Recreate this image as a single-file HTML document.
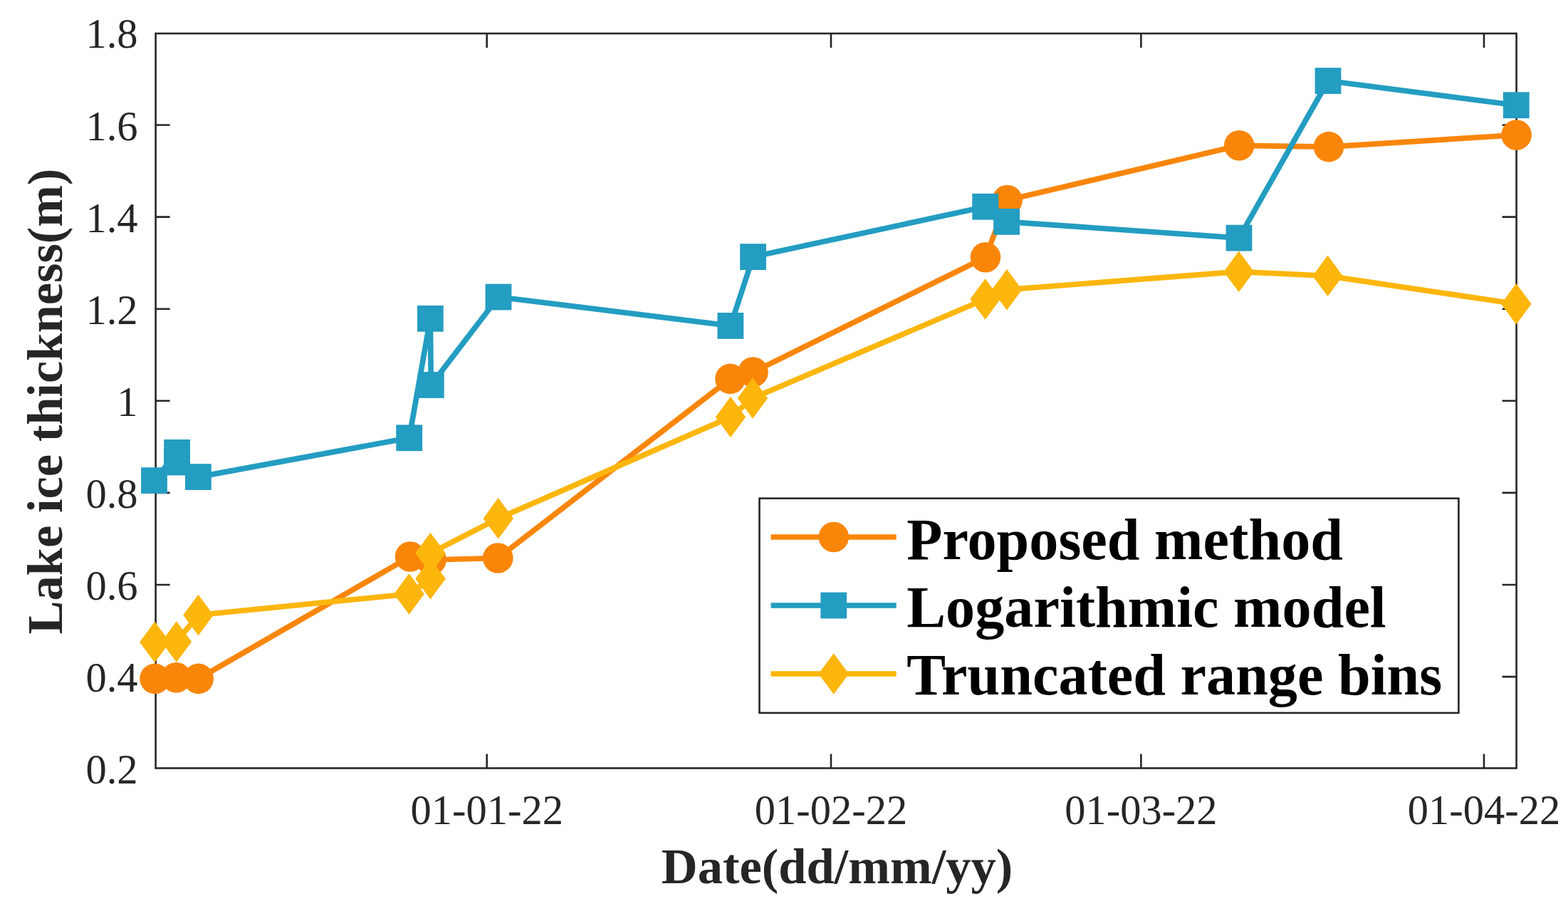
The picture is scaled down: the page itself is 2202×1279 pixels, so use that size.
<!DOCTYPE html>
<html><head><meta charset="utf-8"><title>Lake ice thickness</title>
<style>
html,body{margin:0;padding:0;background:#fff;}
svg{display:block;}
.t{font-family:"Liberation Serif","Times New Roman",serif;font-size:58.5px;fill:#262626;}
.l{font-family:"Liberation Serif","Times New Roman",serif;font-size:70.5px;font-weight:bold;fill:#262626;}
.g{font-family:"Liberation Serif","Times New Roman",serif;font-size:82.2px;font-weight:bold;fill:#000;}
</style></head><body>
<svg width="2202" height="1279" viewBox="0 0 2202 1279">
<rect width="2202" height="1279" fill="#fff"/>
<rect x="218.6" y="47.0" width="1911.0" height="1031.5" fill="none" stroke="#262626" stroke-width="2.6"/>
<path d="M683.7,1078.5V1058.5M683.7,47.0V67.0M1167.0,1078.5V1058.5M1167.0,47.0V67.0M1602.4,1078.5V1058.5M1602.4,47.0V67.0M2084.0,1078.5V1058.5M2084.0,47.0V67.0M218.6,950.1H238.6M2129.6,950.1H2109.6M218.6,821.0H238.6M2129.6,821.0H2109.6M218.6,691.9H238.6M2129.6,691.9H2109.6M218.6,562.8H238.6M2129.6,562.8H2109.6M218.6,433.7H238.6M2129.6,433.7H2109.6M218.6,304.6H238.6M2129.6,304.6H2109.6M218.6,175.5H238.6M2129.6,175.5H2109.6" stroke="#262626" stroke-width="2.6" fill="none"/>
<text x="683.7" y="1157.0" text-anchor="middle" class="t">01-01-22</text>
<text x="1167.0" y="1157.0" text-anchor="middle" class="t">01-02-22</text>
<text x="1602.4" y="1157.0" text-anchor="middle" class="t">01-03-22</text>
<text x="2084.0" y="1157.0" text-anchor="middle" class="t">01-04-22</text>
<text x="193.6" y="1100.2" text-anchor="end" class="t">0.2</text>
<text x="193.6" y="971.1" text-anchor="end" class="t">0.4</text>
<text x="193.6" y="842.0" text-anchor="end" class="t">0.6</text>
<text x="193.6" y="712.9" text-anchor="end" class="t">0.8</text>
<text x="193.6" y="583.8" text-anchor="end" class="t">1</text>
<text x="193.6" y="454.7" text-anchor="end" class="t">1.2</text>
<text x="193.6" y="325.6" text-anchor="end" class="t">1.4</text>
<text x="193.6" y="196.5" text-anchor="end" class="t">1.6</text>
<text x="193.6" y="67.4" text-anchor="end" class="t">1.8</text>
<text x="1175.5" y="1240.2" text-anchor="middle" class="l">Date(dd/mm/yy)</text>
<text transform="translate(86.7,563.5) rotate(-90)" x="0" y="0" text-anchor="middle" class="l">Lake ice thickness(m)</text>
<polyline points="217.5,952.9 247.5,951.2 278.7,952.9 576.0,781.5 605.5,786.0 699.3,783.5 1025.5,531.9 1057.5,522.5 1384.0,361.2 1414.6,281.0 1740.2,204.3 1866.0,206.1 2129.6,189.5" fill="none" stroke="#F98609" stroke-width="7.7" stroke-linejoin="round" stroke-linecap="round"/>
<circle cx="217.5" cy="952.9" r="21.3" fill="#F98609"/>
<circle cx="247.5" cy="951.2" r="21.3" fill="#F98609"/>
<circle cx="278.7" cy="952.9" r="21.3" fill="#F98609"/>
<circle cx="576.0" cy="781.5" r="21.3" fill="#F98609"/>
<circle cx="605.5" cy="786.0" r="21.3" fill="#F98609"/>
<circle cx="699.3" cy="783.5" r="21.3" fill="#F98609"/>
<circle cx="1025.5" cy="531.9" r="21.3" fill="#F98609"/>
<circle cx="1057.5" cy="522.5" r="21.3" fill="#F98609"/>
<circle cx="1384.0" cy="361.2" r="21.3" fill="#F98609"/>
<circle cx="1414.6" cy="281.0" r="21.3" fill="#F98609"/>
<circle cx="1740.2" cy="204.3" r="21.3" fill="#F98609"/>
<circle cx="1866.0" cy="206.1" r="21.3" fill="#F98609"/>
<circle cx="2129.6" cy="189.5" r="21.3" fill="#F98609"/>
<polyline points="216.5,674.6 248.6,635.4 248.6,649.0 278.4,669.6 574.7,614.8 604.3,447.3 605.3,540.5 700.0,417.0 1025.9,457.4 1057.6,360.6 1383.7,290.2 1413.6,311.3 1740.0,334.1 1865.0,113.5 2129.3,147.7" fill="none" stroke="#239DC1" stroke-width="7.7" stroke-linejoin="round" stroke-linecap="round"/>
<rect x="198.1" y="656.2" width="36.8" height="36.8" fill="#239DC1"/>
<rect x="230.2" y="617.0" width="36.8" height="36.8" fill="#239DC1"/>
<rect x="230.2" y="630.6" width="36.8" height="36.8" fill="#239DC1"/>
<rect x="260.0" y="651.2" width="36.8" height="36.8" fill="#239DC1"/>
<rect x="556.3" y="596.4" width="36.8" height="36.8" fill="#239DC1"/>
<rect x="585.9" y="428.9" width="36.8" height="36.8" fill="#239DC1"/>
<rect x="586.9" y="522.1" width="36.8" height="36.8" fill="#239DC1"/>
<rect x="681.6" y="398.6" width="36.8" height="36.8" fill="#239DC1"/>
<rect x="1007.5" y="439.0" width="36.8" height="36.8" fill="#239DC1"/>
<rect x="1039.2" y="342.2" width="36.8" height="36.8" fill="#239DC1"/>
<rect x="1365.3" y="271.8" width="36.8" height="36.8" fill="#239DC1"/>
<rect x="1395.2" y="292.9" width="36.8" height="36.8" fill="#239DC1"/>
<rect x="1721.6" y="315.7" width="36.8" height="36.8" fill="#239DC1"/>
<rect x="1846.6" y="95.1" width="36.8" height="36.8" fill="#239DC1"/>
<rect x="2110.9" y="129.3" width="36.8" height="36.8" fill="#239DC1"/>
<polyline points="217.3,901.5 247.8,901.0 278.5,863.5 574.5,834.0 604.5,812.6 604.5,776.6 699.7,727.9 1026.0,585.5 1057.0,559.0 1383.6,420.0 1414.0,406.7 1739.7,381.4 1864.6,387.4 2129.3,426.7" fill="none" stroke="#FCB60C" stroke-width="7.7" stroke-linejoin="round" stroke-linecap="round"/>
<polygon points="217.3,872.8 238.6,901.5 217.3,930.2 196.1,901.5" fill="#FCB60C"/>
<polygon points="247.8,872.2 269.1,901.0 247.8,929.8 226.6,901.0" fill="#FCB60C"/>
<polygon points="278.5,834.8 299.8,863.5 278.5,892.2 257.2,863.5" fill="#FCB60C"/>
<polygon points="574.5,805.2 595.8,834.0 574.5,862.8 553.2,834.0" fill="#FCB60C"/>
<polygon points="604.5,783.9 625.8,812.6 604.5,841.4 583.2,812.6" fill="#FCB60C"/>
<polygon points="604.5,747.9 625.8,776.6 604.5,805.4 583.2,776.6" fill="#FCB60C"/>
<polygon points="699.7,699.1 721.0,727.9 699.7,756.6 678.5,727.9" fill="#FCB60C"/>
<polygon points="1026.0,556.8 1047.2,585.5 1026.0,614.2 1004.8,585.5" fill="#FCB60C"/>
<polygon points="1057.0,530.2 1078.2,559.0 1057.0,587.8 1035.8,559.0" fill="#FCB60C"/>
<polygon points="1383.6,391.2 1404.8,420.0 1383.6,448.8 1362.3,420.0" fill="#FCB60C"/>
<polygon points="1414.0,377.9 1435.2,406.7 1414.0,435.4 1392.8,406.7" fill="#FCB60C"/>
<polygon points="1739.7,352.6 1761.0,381.4 1739.7,410.1 1718.5,381.4" fill="#FCB60C"/>
<polygon points="1864.6,358.6 1885.8,387.4 1864.6,416.1 1843.3,387.4" fill="#FCB60C"/>
<polygon points="2129.3,397.9 2150.6,426.7 2129.3,455.4 2108.1,426.7" fill="#FCB60C"/>
<rect x="1066.5" y="699.7" width="981.9" height="301.2" fill="#fff" stroke="#262626" stroke-width="2.6"/>
<line x1="1082.6" y1="754.0" x2="1258.7" y2="754.0" stroke="#F98609" stroke-width="7.7"/>
<circle cx="1170.8" cy="754.0" r="21.3" fill="#F98609"/>
<text x="1273.3" y="785.0" class="g">Proposed method</text>
<line x1="1082.6" y1="850.0" x2="1258.7" y2="850.0" stroke="#239DC1" stroke-width="7.7"/>
<rect x="1152.4" y="831.6" width="36.8" height="36.8" fill="#239DC1"/>
<text x="1273.3" y="879.5" class="g">Logarithmic model</text>
<line x1="1082.6" y1="946.0" x2="1258.7" y2="946.0" stroke="#FCB60C" stroke-width="7.7"/>
<polygon points="1170.8,917.2 1192.0,946.0 1170.8,974.8 1149.5,946.0" fill="#FCB60C"/>
<text x="1273.3" y="974.7" class="g">Truncated range bins</text>
</svg>
</body></html>
